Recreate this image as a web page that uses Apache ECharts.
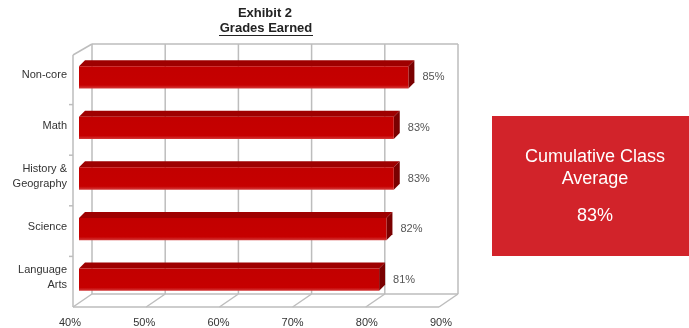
<!DOCTYPE html>
<html><head><meta charset="utf-8">
<script src="https://cdn.jsdelivr.net/npm/echarts@6/dist/echarts.min.js"></script>
<style>html,body{margin:0;padding:0;background:#fff}#c{width:689px;height:328px}</style>
</head><body><div id="c"></div>
<script>
const categories = ['Non-core', 'Math', 'History &\nGeography', 'Science', 'Language\nArts'];
const grades = [85, 83, 83, 82, 81];
const xTicks = [40, 50, 60, 70, 80, 90];
const cumulativeAverage = 83;
const titleLine1 = 'Exhibit 2';
const titleLine2 = 'Grades Earned';

const FONT = '"Liberation Sans", Arial, sans-serif';
const GRID_LINE = '#bdbdbd';
const D = 6; // bar depth in px

const chart = echarts.init(document.getElementById('c'), null, {renderer: 'canvas'});

function frameRender(params, api) {
  const cs = params.coordSys;
  const top = cs.y, bottom = cs.y + cs.height;
  const fTop = top + 5, fBot = bottom + 4, fdx = -6;
  const bTop = top - 6, bBot = bottom - 9, bdx = 13;
  const xs = xTicks.map(v => api.coord([v, 0])[0]);
  const first = xs[0], last = xs[xs.length - 1];
  const st = {stroke: GRID_LINE, lineWidth: 1.5};
  const L = (x1, y1, x2, y2) => ({type: 'line', shape: {x1, y1, x2, y2}, style: st, silent: true});
  const children = [];
  // back wall
  children.push(L(first + bdx, bTop, last + bdx, bTop));
  xs.forEach(x => children.push(L(x + bdx, bTop, x + bdx, bBot)));
  children.push(L(first + bdx, bBot, last + bdx, bBot));
  // left wall
  children.push(L(first + fdx, fTop, first + fdx, fBot));
  children.push(L(first + fdx, fTop, first + bdx, bTop));
  // floor
  children.push(L(first + fdx, fBot, last + fdx, fBot));
  xs.forEach(x => children.push(L(x + fdx, fBot, x + bdx, bBot)));
  // small ticks on left wall at category boundaries
  const band = api.size([0, 1])[1];
  for (let i = 1; i < categories.length; i++) {
    const y = top + band * i + 4;
    children.push(L(first + fdx - 4, y, first + fdx, y));
  }
  return {type: 'group', children};
}

function barRender(params, api) {
  const idx = api.value(1);
  const v = api.value(0);
  const p0 = api.coord([40, idx]);
  const p1 = api.coord([v, idx]);
  const band = api.size([0, 1])[1];
  const h = band * 0.44;
  const x0 = p0[0], x1 = p1[0];
  const yT = p0[1] - h / 2 + 2, yB = p0[1] + h / 2 + 2;
  return {
    type: 'group',
    children: [
      {type: 'polygon', shape: {points: [[x0, yT], [x0 + D, yT - D], [x1 + D, yT - D], [x1, yT]]},
        style: {fill: '#9e0000'}},
      {type: 'polygon', shape: {points: [[x1, yT], [x1 + D, yT - D], [x1 + D, yB - D], [x1, yB]]},
        style: {fill: '#7a0000'}},
      {type: 'rect', shape: {x: x0, y: yT, width: x1 - x0, height: yB - yT},
        style: {fill: new echarts.graphic.LinearGradient(0, 0, 0, 1, [
          {offset: 0, color: '#c20000'}, {offset: 0.85, color: '#c60000'}, {offset: 1, color: '#d43a3a'}])}},
      {type: 'text', style: {x: x1 + D + 8, y: (yT + yB) / 2, text: v + '%', fill: '#555',
        font: '11px ' + FONT, verticalAlign: 'middle', align: 'left'}}
    ]
  };
}

chart.setOption({
  animation: false,
  backgroundColor: '#fff',
  grid: [
    {left: 79, width: 366, top: 50, height: 253},
    {left: 70, width: 371, top: 55, height: 252}
  ],
  xAxis: [
    {gridIndex: 0, type: 'value', min: 40, max: 90, interval: 10, show: false},
    {gridIndex: 1, type: 'value', min: 40, max: 90, interval: 10,
      axisLine: {show: false}, axisTick: {show: false}, splitLine: {show: false},
      axisLabel: {formatter: '{value}%', fontSize: 11, color: '#333', fontFamily: FONT, margin: 10}}
  ],
  yAxis: [
    {gridIndex: 0, type: 'category', data: categories, inverse: true,
      axisLine: {show: false}, axisTick: {show: false}, splitLine: {show: false},
      axisLabel: {fontSize: 11, color: '#333', fontFamily: FONT, margin: 12, lineHeight: 15, align: 'right'}},
    {gridIndex: 1, type: 'value', show: false}
  ],
  series: [
    {type: 'custom', xAxisIndex: 0, yAxisIndex: 0, data: [[40, 0]], renderItem: frameRender, z: 1, silent: true, clip: false},
    {type: 'custom', xAxisIndex: 0, yAxisIndex: 0, data: grades.map((g, i) => [g, i]),
      encode: {x: 0, y: 1}, renderItem: barRender, z: 2, clip: false}
  ],
  graphic: [
    {type: 'text', x: 265, y: 13, style: {text: titleLine1, font: 'bold 13px ' + FONT, fill: '#222', align: 'center', verticalAlign: 'middle'}},
    {type: 'text', x: 266, y: 28, style: {text: titleLine2, font: 'bold 13px ' + FONT, fill: '#222', align: 'center', verticalAlign: 'middle'}},
    {type: 'line', shape: {x1: 219, y1: 35.5, x2: 313, y2: 35.5}, style: {stroke: '#222', lineWidth: 1}},
    {type: 'rect', shape: {x: 492, y: 116, width: 197, height: 140}, style: {fill: '#d2232a'}},
    {type: 'text', x: 595, y: 157, style: {text: 'Cumulative Class', font: '18px ' + FONT, fill: '#fff', align: 'center', verticalAlign: 'middle'}},
    {type: 'text', x: 595, y: 179, style: {text: 'Average', font: '18px ' + FONT, fill: '#fff', align: 'center', verticalAlign: 'middle'}},
    {type: 'text', x: 595, y: 216, style: {text: cumulativeAverage + '%', font: '18px ' + FONT, fill: '#fff', align: 'center', verticalAlign: 'middle'}}
  ]
});
</script>
</body></html>
